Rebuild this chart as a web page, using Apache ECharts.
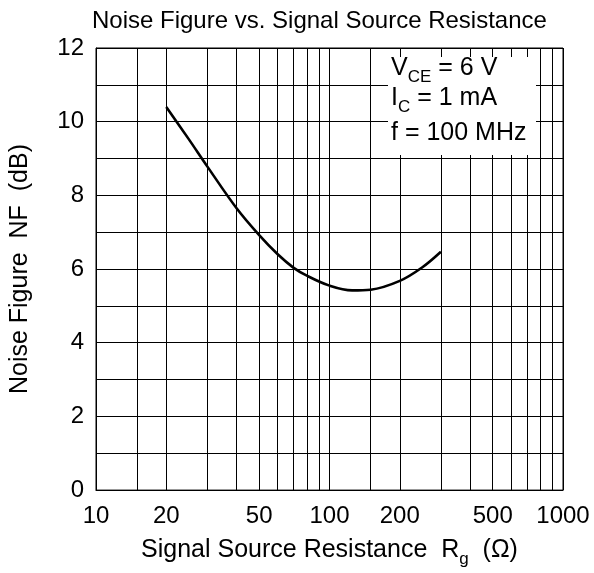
<!DOCTYPE html>
<html><head><meta charset="utf-8">
<script src="https://cdn.jsdelivr.net/npm/echarts@6/dist/echarts.min.js"></script>
<style>html,body{margin:0;padding:0;background:#fff}#c{width:594px;height:573px}</style>
</head><body><div id="c"></div>
<script>
const resistance  = [20, 25, 30, 40, 50, 60, 70, 80, 100, 125, 150, 200, 250, 300];
const noiseFigure = [10.40, 9.52, 8.78, 7.65, 6.92, 6.40, 6.04, 5.82, 5.55, 5.42, 5.44, 5.68, 6.05, 6.47];
const xGridValues = [10, 15, 20, 30, 40, 50, 60, 70, 80, 90, 100, 150, 200, 300, 400, 500, 600, 700, 800, 900, 1000];
const xTickLabels = [10, 20, 50, 100, 200, 500, 1000];
const yTickLabels = [0, 2, 4, 6, 8, 10, 12];
const annotationLines = ['V{sub|CE} = 6 V', 'I{sub|C} = 1 mA', 'f = 100 MHz'];

const FONT = '"Liberation Sans", Arial, sans-serif';
const chart = echarts.init(document.getElementById('c'));
const subStyle = { fontSize: 17, fontFamily: FONT, color: '#000', lineHeight: 17, padding: [18, 0, 0, 0] };

chart.setOption({
  animation: false,
  title: {
    text: 'Noise Figure vs. Signal Source Resistance',
    left: 87, top: 4,
    textStyle: { fontFamily: FONT, fontSize: 24, fontWeight: 'normal', color: '#000', lineHeight: 24 }
  },
  grid: { left: 95, right: 31, top: 48, bottom: 82, show: true, borderColor: '#000', borderWidth: 1, backgroundColor: 'transparent' },
  xAxis: {
    type: 'log', logBase: 10, min: 10, max: 1000,
    axisLine: { show: true, lineStyle: { color: '#000', width: 1 } },
    axisTick: { show: true, length: 0, customValues: xGridValues },
    axisLabel: {
      customValues: xTickLabels, fontFamily: FONT, fontSize: 24, color: '#000', margin: 14,
      formatter: v => String(Math.round(v))
    },
    splitLine: { show: true, lineStyle: { color: '#000', width: 1 } },
    name: 'Signal Source Resistance  R{sub|g}  (Ω)',
    nameLocation: 'middle', nameGap: 43,
    nameTextStyle: { fontFamily: FONT, fontSize: 25, color: '#000', lineHeight: 25, rich: { sub: subStyle } }
  },
  yAxis: {
    type: 'value', min: 0, max: 12, interval: 1,
    axisLine: { show: true, lineStyle: { color: '#000', width: 1 } },
    axisTick: { show: false },
    axisLabel: {
      fontFamily: FONT, fontSize: 24, color: '#000', margin: 12,
      formatter: v => yTickLabels.includes(v) ? String(v) : ''
    },
    splitLine: { show: true, lineStyle: { color: '#000', width: 1 } },
    name: 'Noise Figure  NF  (dB)',
    nameLocation: 'middle', nameGap: 63,
    nameTextStyle: { fontFamily: FONT, fontSize: 25, color: '#000', lineHeight: 25 }
  },
  series: [{
    type: 'line',
    data: resistance.map((r, i) => [r, noiseFigure[i]]),
    smooth: 0.35, showSymbol: false,
    lineStyle: { color: '#000', width: 2.6 },
    z: 5
  }],
  graphic: [
    { type: 'rect', z: 100, shape: { x: 388, y: 57, width: 148, height: 98 }, style: { fill: '#fff' } },
    { type: 'text', z: 101, x: 391, y: 56, style: { text: annotationLines[0], fontFamily: FONT, fontSize: 25, lineHeight: 25, fill: '#000', rich: { sub: subStyle } } },
    { type: 'text', z: 101, x: 391, y: 86, style: { text: annotationLines[1], fontFamily: FONT, fontSize: 25, lineHeight: 25, fill: '#000', rich: { sub: subStyle } } },
    { type: 'text', z: 101, x: 391, y: 121, style: { text: annotationLines[2], fontFamily: FONT, fontSize: 25, lineHeight: 25, fill: '#000' } }
  ]
});
</script>
</body></html>
